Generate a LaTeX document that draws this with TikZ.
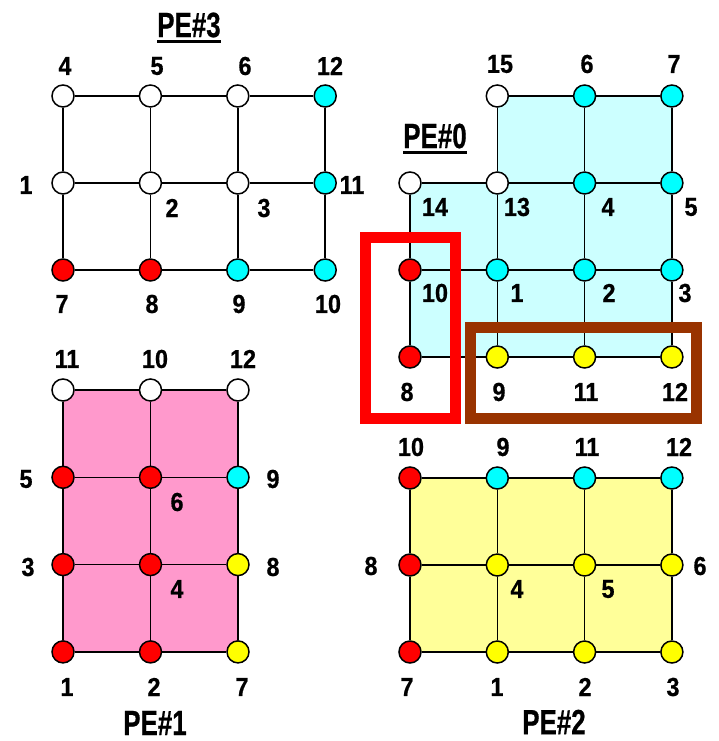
\documentclass[tikz,border=0pt]{standalone}
\usepackage{fontspec}
\setmainfont{Liberation Sans}
\newfontfamily\heavyfont{Liberation Sans}[BoldFeatures={FakeBold=0.7}]
\definecolor{pinkfill}{HTML}{FF99CC}
\definecolor{yelfill}{HTML}{FFFF99}
\definecolor{cyanfill}{HTML}{CCFFFF}
\definecolor{boxbrown}{HTML}{993300}
\definecolor{vred}{HTML}{FF0000}
\definecolor{vcyan}{HTML}{00FFFF}
\definecolor{vyellow}{HTML}{FFFF00}
\definecolor{vwhite}{HTML}{FFFFFF}
\pgfdeclarelayer{fills}
\pgfdeclarelayer{lines}
\pgfsetlayers{fills,lines,main}
\tikzset{
  vtx/.style={circle,draw=black,line width=1.5pt,minimum size=22pt,inner sep=0pt},
  gridline/.style={draw=black,line width=1.6pt},
  num/.style={font=\heavyfont\bfseries\fontsize{26}{26}\selectfont,inner sep=0pt,xscale=0.9},
  ttl/.style={font=\heavyfont\bfseries\fontsize{35}{35}\selectfont,inner sep=0pt,xscale=0.74},
  uline/.style={draw=black,line width=2.4pt},
  hlred/.style={draw=vred,line width=11pt},
  hlbrown/.style={draw=boxbrown,line width=11pt},
}
\begin{document}
\begin{tikzpicture}[x=1pt,y=-1pt]
\useasboundingbox (0,0) rectangle (719,741);
\begin{pgfonlayer}{fills}
\fill[white] (0,0) rectangle (719,741);
\end{pgfonlayer}

% ---------- PE#3 ----------
\foreach \c/\r/\col in {1/1/vwhite,2/1/vwhite,3/1/vwhite,4/1/vcyan,
  1/2/vwhite,2/2/vwhite,3/2/vwhite,4/2/vcyan,
  1/3/vred,2/3/vred,3/3/vcyan,4/3/vcyan}
  \node[vtx,fill=\col] (p3-\c-\r) at ({63+87.4*(\c-1)},{96+87*(\r-1)}) {};
\begin{pgfonlayer}{lines}
\foreach \r in {1,2,3}{\foreach \c/\d in {1/2,2/3,3/4}{\draw[gridline] (p3-\c-\r) -- (p3-\d-\r);}}
\foreach \c in {1,2,3,4}{\foreach \r/\s in {1/2,2/3}{\draw[gridline] (p3-\c-\r) -- (p3-\c-\s);}}
\end{pgfonlayer}

% ---------- PE#0 ----------
\foreach \c/\r/\col in {2/1/vwhite,3/1/vcyan,4/1/vcyan,
  1/2/vwhite,2/2/vwhite,3/2/vcyan,4/2/vcyan,
  1/3/vred,2/3/vcyan,3/3/vcyan,4/3/vcyan,
  1/4/vred,2/4/vyellow,3/4/vyellow,4/4/vyellow}
  \node[vtx,fill=\col] (p0-\c-\r) at ({410+87.3*(\c-1)},{96+87*(\r-1)}) {};
\begin{pgfonlayer}{fills}
\fill[cyanfill] (p0-1-2.center) -- (p0-2-2.center) -- (p0-2-1.center) -- (p0-4-1.center)
  -- (p0-4-4.center) -- (p0-1-4.center) -- cycle;
\end{pgfonlayer}
\begin{pgfonlayer}{lines}
\foreach \c/\d in {2/3,3/4}{\draw[gridline] (p0-\c-1) -- (p0-\d-1);}
\foreach \r in {2,3,4}{\foreach \c/\d in {1/2,2/3,3/4}{\draw[gridline] (p0-\c-\r) -- (p0-\d-\r);}}
\foreach \r/\s in {2/3,3/4}{\draw[gridline] (p0-1-\r) -- (p0-1-\s);}
\foreach \c in {2,3,4}{\foreach \r/\s in {1/2,2/3,3/4}{\draw[gridline] (p0-\c-\r) -- (p0-\c-\s);}}
\end{pgfonlayer}

% ---------- PE#1 ----------
\foreach \c/\r/\col in {1/1/vwhite,2/1/vwhite,3/1/vwhite,
  1/2/vred,2/2/vred,3/2/vcyan,
  1/3/vred,2/3/vred,3/3/vyellow,
  1/4/vred,2/4/vred,3/4/vyellow}
  \node[vtx,fill=\col] (p1-\c-\r) at ({63+87.5*(\c-1)},{390+87.3*(\r-1)}) {};
\begin{pgfonlayer}{fills}
\fill[pinkfill] (p1-1-1.center) rectangle (p1-3-4.center);
\end{pgfonlayer}
\begin{pgfonlayer}{lines}
\foreach \r in {1,2,3,4}{\foreach \c/\d in {1/2,2/3}{\draw[gridline] (p1-\c-\r) -- (p1-\d-\r);}}
\foreach \c in {1,2,3}{\foreach \r/\s in {1/2,2/3,3/4}{\draw[gridline] (p1-\c-\r) -- (p1-\c-\s);}}
\end{pgfonlayer}

% ---------- PE#2 ----------
\foreach \c/\r/\col in {1/1/vred,2/1/vcyan,3/1/vcyan,4/1/vcyan,
  1/2/vred,2/2/vyellow,3/2/vyellow,4/2/vyellow,
  1/3/vred,2/3/vyellow,3/3/vyellow,4/3/vyellow}
  \node[vtx,fill=\col] (p2-\c-\r) at ({410+87.3*(\c-1)},{478+87*(\r-1)}) {};
\begin{pgfonlayer}{fills}
\fill[yelfill] (p2-1-1.center) rectangle (p2-4-3.center);
\end{pgfonlayer}
\begin{pgfonlayer}{lines}
\foreach \r in {1,2,3}{\foreach \c/\d in {1/2,2/3,3/4}{\draw[gridline] (p2-\c-\r) -- (p2-\d-\r);}}
\foreach \c in {1,2,3,4}{\foreach \r/\s in {1/2,2/3}{\draw[gridline] (p2-\c-\r) -- (p2-\c-\s);}}
\end{pgfonlayer}

% ---------- labels ----------
\foreach \n/\x/\y/\t in {
  a4/65/66/4, a5/157/66/5, a6/245/66/6, a12/330/66/12,
  a1/26/185/1, a11/352/185/11, a2/172/208/2, a3/264/208/3,
  a7/62/304/7, a8/152/304/8, a9/239/304/9, a10/328/304/10,
  b15/500/64/15, b6/587/64/6, b7/674/64/7,
  b14/435/207/14, b13/517/207/13, b4/608/207/4, b5/691/207/5,
  b10/435/293/10, b1/517/293/1, b2/609/293/2, b3/685/293/3,
  b8/407/392/8, b9/499/392/9, b11/586/392/11, b12/675/392/12,
  c11/67/359/11, c10/155/359/10, c12/243/359/12,
  c5/26/479/5, c9/273/479/9, c6/177/502/6,
  c3/28/567/3, c8/273/567/8, c4/177/589/4,
  c1/67/687/1, c2/154/687/2, c7/242/687/7,
  d10/411/447/10, d9/503/447/9, d11/587/447/11, d12/679/447/12,
  d8/371/566/8, d6/700/566/6, d4/517/589/4, d5/608/589/5,
  d7/407/687/7, d1/497/687/1, d2/585/687/2, d3/673/687/3}
  \node[num] (\n) at (\x,\y) {\t};

\node[ttl] (t3) at (189,25) {PE\#3};
\draw[uline] ([yshift=-4pt]t3.south west) -- ([yshift=-4pt]t3.south east);
\node[ttl] (t0) at (435,136) {PE\#0};
\draw[uline] ([yshift=-4pt]t0.south west) -- ([yshift=-4pt]t0.south east);
\node[ttl] (t1) at (155,723) {PE\#1};
\node[ttl] (t2) at (554,722) {PE\#2};

% ---------- highlight boxes ----------
\draw[hlred] (365.5,237.5) rectangle (455,418);
\draw[hlbrown] (470,327.5) rectangle (696.5,418.5);
\end{tikzpicture}
\end{document}
